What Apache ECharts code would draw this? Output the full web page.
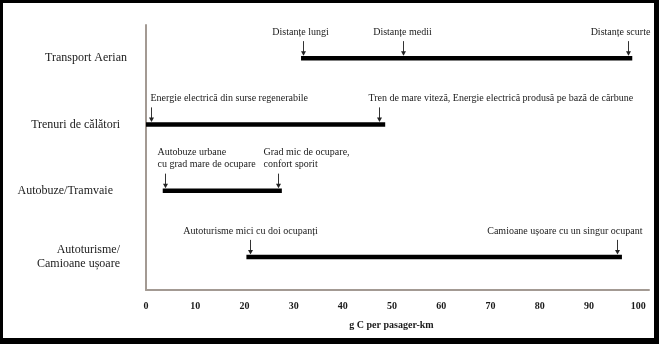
<!DOCTYPE html>
<html>
<head>
<meta charset="utf-8">
<script src="https://cdn.jsdelivr.net/npm/echarts@6/dist/echarts.min.js"></script>
<style>html,body{margin:0;padding:0;background:#fff}#c{width:659px;height:344px}</style>
</head>
<body>
<div id="c"></div>
<script>
// ---- data ----
const categories = ['Transport Aerian', 'Trenuri de călători', 'Autobuze/Tramvaie', 'Autoturisme/\nCamioane ușoare'];
const rangeMin = [31.5, 0, 3.4, 20.4];
const rangeMax = [98.8, 48.6, 27.6, 96.7];
const annCategory = [0, 0, 0, 1, 1, 2, 2, 3, 3];
const annValue = [31.8, 52.2, 97.9, 1.0, 47.4, 3.8, 26.8, 21.1, 95.7];
const annText = [
  'Distanțe lungi',
  'Distanțe medii',
  'Distanțe scurte',
  'Energie electrică din surse regenerabile',
  'Tren de mare viteză, Energie electrică produsă pe bază de cărbune',
  'Autobuze urbane\ncu grad mare de ocupare',
  'Grad mic de ocupare,\nconfort sporit',
  'Autoturisme mici cu doi ocupanți',
  'Camioane ușoare cu un singur ocupant'
];
const xTickInterval = 10;
const axisName = 'g C per pasager-km';

// ---- styles (label placement relative to arrow) ----
const annAlign = ['center', 'center', 'center', 'left', 'left', 'left', 'left', 'center', 'right'];
const annDx = [-3, -1, -8, -1, -11, -8, -15, 0, 25];
const catPadRight = [0, 7, 14, 7];

const FONT = 'Liberation Serif';
const rangeData = categories.map((c, i) => [rangeMin[i], rangeMax[i], i]);
const annData = annValue.map((v, i) => [v, annCategory[i], i]);

const rich = {};
catPadRight.forEach((p, i) => {
  rich['c' + i] = { fontFamily: FONT, fontSize: 12, color: '#1a1a1a', padding: [0, p, 0, 0], align: 'right', lineHeight: 14 };
});

const chart = echarts.init(document.getElementById('c'), null, { renderer: 'canvas' });
chart.setOption({
  backgroundColor: '#000',
  animation: false,
  graphic: [{
    type: 'rect', z: -100, silent: true,
    shape: { x: 3, y: 3, width: 651, height: 335 },
    style: { fill: '#fff' }
  }],
  grid: { left: 146, right: 10, top: 25, bottom: 54 },
  xAxis: {
    type: 'value', min: 0, max: 102.2, interval: xTickInterval,
    axisLine: { show: true, lineStyle: { color: '#a39a93', width: 2 } },
    axisTick: { show: false },
    splitLine: { show: false },
    axisLabel: { showMaxLabel: false, margin: 11, fontFamily: FONT, fontWeight: 'bold', fontSize: 10, color: '#1a1a1a' },
    name: axisName, nameLocation: 'middle', nameGap: 30,
    nameTextStyle: { fontFamily: FONT, fontWeight: 'bold', fontSize: 10, color: '#1a1a1a', padding: [0, 12, 0, 0] }
  },
  yAxis: {
    type: 'category', data: categories, inverse: true,
    axisLine: { show: true, lineStyle: { color: '#a39a93', width: 2 } },
    axisTick: { show: false },
    splitLine: { show: false },
    axisLabel: {
      margin: 19,
      formatter: (v, i) => '{c' + i + '|' + v + '}',
      rich: rich
    }
  },
  series: [{
    type: 'custom',
    data: rangeData,
    encode: { x: [0, 1], y: 2 },
    renderItem: (params, api) => {
      const p0 = api.coord([api.value(0), api.value(2)]);
      const p1 = api.coord([api.value(1), api.value(2)]);
      return {
        type: 'line',
        shape: { x1: p0[0], y1: p0[1], x2: p1[0], y2: p1[1] },
        style: { stroke: '#000', lineWidth: 4.5, lineCap: 'butt' }
      };
    }
  }, {
    type: 'custom',
    data: annData,
    encode: { x: 0, y: 1 },
    renderItem: (params, api) => {
      const idx = api.value(2);
      const p = api.coord([api.value(0), api.value(1)]);
      const x = Math.round(p[0]) + 0.5, y = p[1];
      return {
        type: 'group',
        children: [{
          type: 'line',
          shape: { x1: x, y1: y - 17, x2: x, y2: y - 6 },
          style: { stroke: '#333', lineWidth: 1 }
        }, {
          type: 'polygon',
          shape: { points: [[x - 2.5, y - 7], [x + 2.5, y - 7], [x, y - 2.5]] },
          style: { fill: '#222' }
        }, {
          type: 'text',
          x: x + annDx[idx], y: y - 20,
          style: {
            text: annText[idx], fontFamily: FONT, fontSize: 10, fill: '#1a1a1a',
            align: annAlign[idx], verticalAlign: 'bottom', lineHeight: 12
          }
        }]
      };
    }
  }]
});
</script>
</body>
</html>
